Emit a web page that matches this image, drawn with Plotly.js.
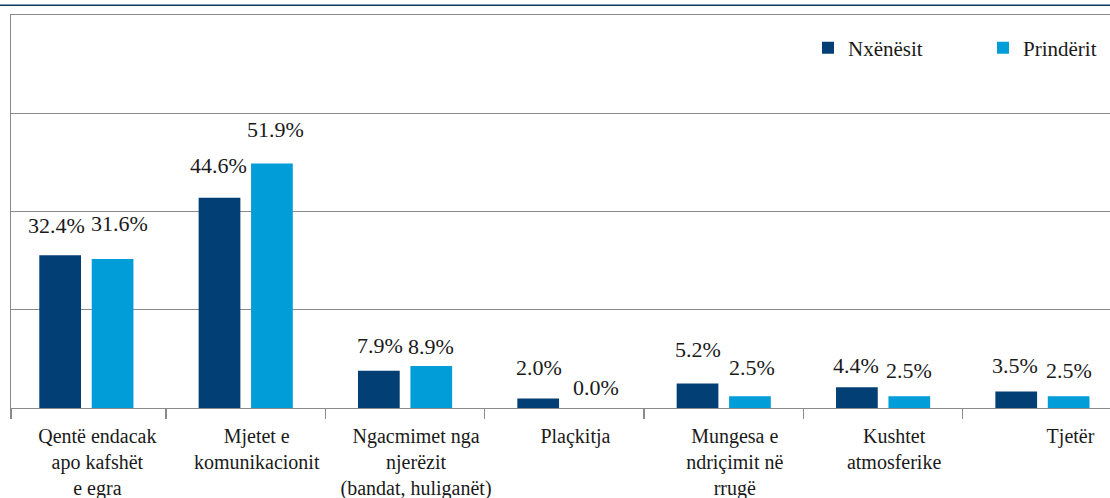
<!DOCTYPE html>
<html>
<head>
<meta charset="utf-8">
<script src="https://cdn.plot.ly/plotly-3.0.1.min.js"></script>
<style>html,body{margin:0;padding:0;background:#fff;overflow:hidden;}</style>
</head>
<body>
<div id="chart" style="width:1110px;height:498px"></div>
<script>
// Data
const categories = [
  "Qentë endacak<br>apo kafshët<br>e egra",
  "Mjetet e<br>komunikacionit",
  "Ngacmimet nga<br>njerëzit<br>(bandat, huliganët)",
  "Plaçkitja",
  "Mungesa e<br>ndriçimit në<br>rrugë",
  "Kushtet<br>atmosferike",
  "Tjetër"
];
const seriesNames = ["Nxënësit", "Prindërit"];
const nxenesit = [32.4, 44.6, 7.9, 2.0, 5.2, 4.4, 3.5];
const prinderit = [31.6, 51.9, 8.9, 0.0, 2.5, 2.5, 2.5];

// Styles: label offsets (px) relative to bar top / bar centre
const gapNx = [21, 24, 17, 23, 26, 13, 18];
const gapPr = [27, 25, 11, 12, 20, 17, 17];
const dxNx = [-4, -1.5, 1, 1, 0, -1, -1.5];
const dxPr = [7, 4, 0, 5.5, 2, 0, 0];
// category label offsets (in category units) to the right of the bar pair
const labelDx = [0.069, 0.069, 0.069, 0.069, 0.069, 0.069, 0.176];
const colNx = "#023f75";
const colPr = "#019dd9";
const FONT = "Liberation Serif";
const GRID = "#8a8a8a";

const idx = categories.map((_, i) => i);

const traces = [
  {type: "bar", name: seriesNames[0], x: idx, y: nxenesit, marker: {color: colNx}, hoverinfo: "none"},
  {type: "bar", name: seriesNames[1], x: idx, y: prinderit, marker: {color: colPr}, hoverinfo: "none"}
];

const fmt = v => v.toFixed(1) + "%";
const annotations = [];
idx.forEach(i => {
  annotations.push({x: i, y: nxenesit[i], xref: "x", yref: "y", text: fmt(nxenesit[i]), showarrow: false,
    xanchor: "center", yanchor: "bottom", xshift: -26.2 + dxNx[i], yshift: gapNx[i] - 5, borderpad: 0,
    font: {family: FONT, size: 22, color: "#1a1a1a"}});
  annotations.push({x: i, y: prinderit[i], xref: "x", yref: "y", text: fmt(prinderit[i]), showarrow: false,
    xanchor: "center", yanchor: "bottom", xshift: 26.2 + dxPr[i], yshift: gapPr[i] - 5, borderpad: 0,
    font: {family: FONT, size: 22, color: "#1a1a1a"}});
});

const XR = [-0.473, 6.424];
const layout = {
  width: 1110, height: 498,
  margin: {l: 11, r: 0, t: 15, b: 90, pad: 0, autoexpand: false},
  paper_bgcolor: "#fff", plot_bgcolor: "#fff",
  font: {family: FONT, size: 20, color: "#1a1a1a"},
  barmode: "group", bargap: 0.342, bargroupgap: 0.204,
  showlegend: true,
  legend: {orientation: "h", x: 0.7252, xanchor: "left", y: 0.916, yanchor: "middle",
    font: {family: FONT, size: 21, color: "#1a1a1a"}, bgcolor: "rgba(0,0,0,0)", entrywidth: 130, itemclick: false},
  xaxis: {
    type: "linear", range: XR, automargin: false,
    tickmode: "array", tickvals: idx.map(i => i + labelDx[i]), ticktext: categories,
    ticks: "", showgrid: false, zeroline: false,
    showline: true, mirror: true, linecolor: GRID, linewidth: 1.3,
    tickfont: {family: FONT, size: 20, color: "#1a1a1a"}, ticklabelstandoff: 10
  },
  xaxis2: {overlaying: "x", matches: "x", range: XR, tickmode: "array", automargin: false,
    tickvals: [XR[0]].concat(idx.slice(0, -1).map(i => i + 0.5)), ticktext: idx.map(() => ""),
    ticks: "outside", ticklen: 10,
    tickcolor: GRID, tickwidth: 1.3, showgrid: false, zeroline: false, showline: false, anchor: "y"},
  yaxis: {
    range: [0, 83.4], tick0: 0, dtick: 20.85, showticklabels: false, ticks: "", automargin: false,
    showgrid: true, gridcolor: GRID, gridwidth: 1.3, zeroline: false,
    showline: true, linecolor: GRID, linewidth: 1.3
  },
  annotations: annotations,
  shapes: [
    {type: "line", xref: "paper", yref: "paper", x0: -0.02, x1: 1.01, y0: 1.0247, y1: 1.0247,
      line: {color: "#0c3b60", width: 1.5}}
  ]
};

// invisible trace to activate xaxis2 (category boundary ticks)
traces.push({type: "scatter", x: [0], y: [0], xaxis: "x2", yaxis: "y", mode: "markers",
  marker: {opacity: 0}, showlegend: false, hoverinfo: "none"});

Plotly.newPlot("chart", traces, layout, {displayModeBar: false, staticPlot: true});
</script>
</body>
</html>
